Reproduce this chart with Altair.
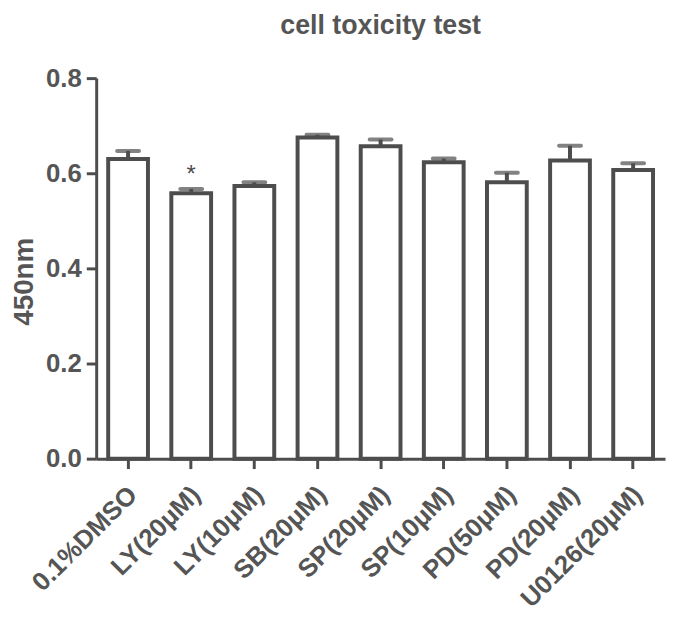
import altair as alt
import pandas as pd

categories = ["0.1%DMSO", "LY(20μM)", "LY(10μM)", "SB(20μM)", "SP(20μM)",
              "SP(10μM)", "PD(50μM)", "PD(20μM)", "U0126(20μM)"]
means = [0.630, 0.558, 0.573, 0.675, 0.657, 0.623, 0.581, 0.627, 0.607]
upper = [0.647, 0.567, 0.581, 0.681, 0.671, 0.631, 0.601, 0.658, 0.621]
marks = ["", "*", "", "", "", "", "", "", ""]

df = pd.DataFrame({"cat": categories, "mean": means, "upper": upper, "mark": marks})

GRAY = "#4d4d4d"
TXT = "#555555"
FONT = "Liberation Sans"

x = alt.X("cat:N", sort=categories, title=None,
          scale=alt.Scale(paddingInner=0.37, paddingOuter=0.19),
          axis=alt.Axis(labelAngle=-45, labelFontSize=26, labelFontWeight="bold",
                        labelColor=TXT, labelFont=FONT, tickSize=10,
                        tickWidth=3, tickColor=GRAY, domainWidth=3, domainColor=GRAY,
                        labelAlign="right", labelBaseline="middle", labelPadding=22,
                        labelOffset=5, labelOverlap=False, labelLimit=300))
y = alt.Y("mean:Q", title="450nm",
          scale=alt.Scale(domain=[0, 0.8], nice=False),
          axis=alt.Axis(values=[0, 0.2, 0.4, 0.6, 0.8], format=".1f", grid=False,
                        labelFontSize=26, labelFontWeight="bold", labelColor=TXT,
                        labelFont=FONT, tickSize=10, tickWidth=3,
                        tickColor=GRAY, domainWidth=3, domainColor=GRAY,
                        labelPadding=5, titleFontSize=28, titleFontWeight="bold",
                        titleColor=TXT, titleFont=FONT, titlePadding=7,
                        titleY=205))

base = alt.Chart(df)
bars = base.mark_bar(fill="white", stroke=GRAY, strokeWidth=4).encode(x=x, y=y)
err = base.mark_rule(color=GRAY, strokeWidth=4).encode(x=x, y="mean:Q", y2="upper:Q")
cap = base.mark_tick(color=GRAY, size=26, thickness=4, orient="horizontal",
                     cornerRadius=2).encode(x=x, y="upper:Q")
star = base.mark_text(fontSize=24, color=GRAY, dy=-14, font=FONT).encode(
    x=x, y="upper:Q", text="mark:N")

chart = alt.layer(bars, err, cap, star).properties(
    width=574, height=384,
    title=alt.Title("cell toxicity test", fontSize=27, fontWeight="bold", color=TXT,
                    font=FONT, anchor="middle", offset=26),
    autosize="none",
    padding={"left": 89, "top": 68, "right": 2, "bottom": 155},
).configure_view(stroke=None)

chart.save("out.html", embed_options={"renderer": "svg", "actions": False})
